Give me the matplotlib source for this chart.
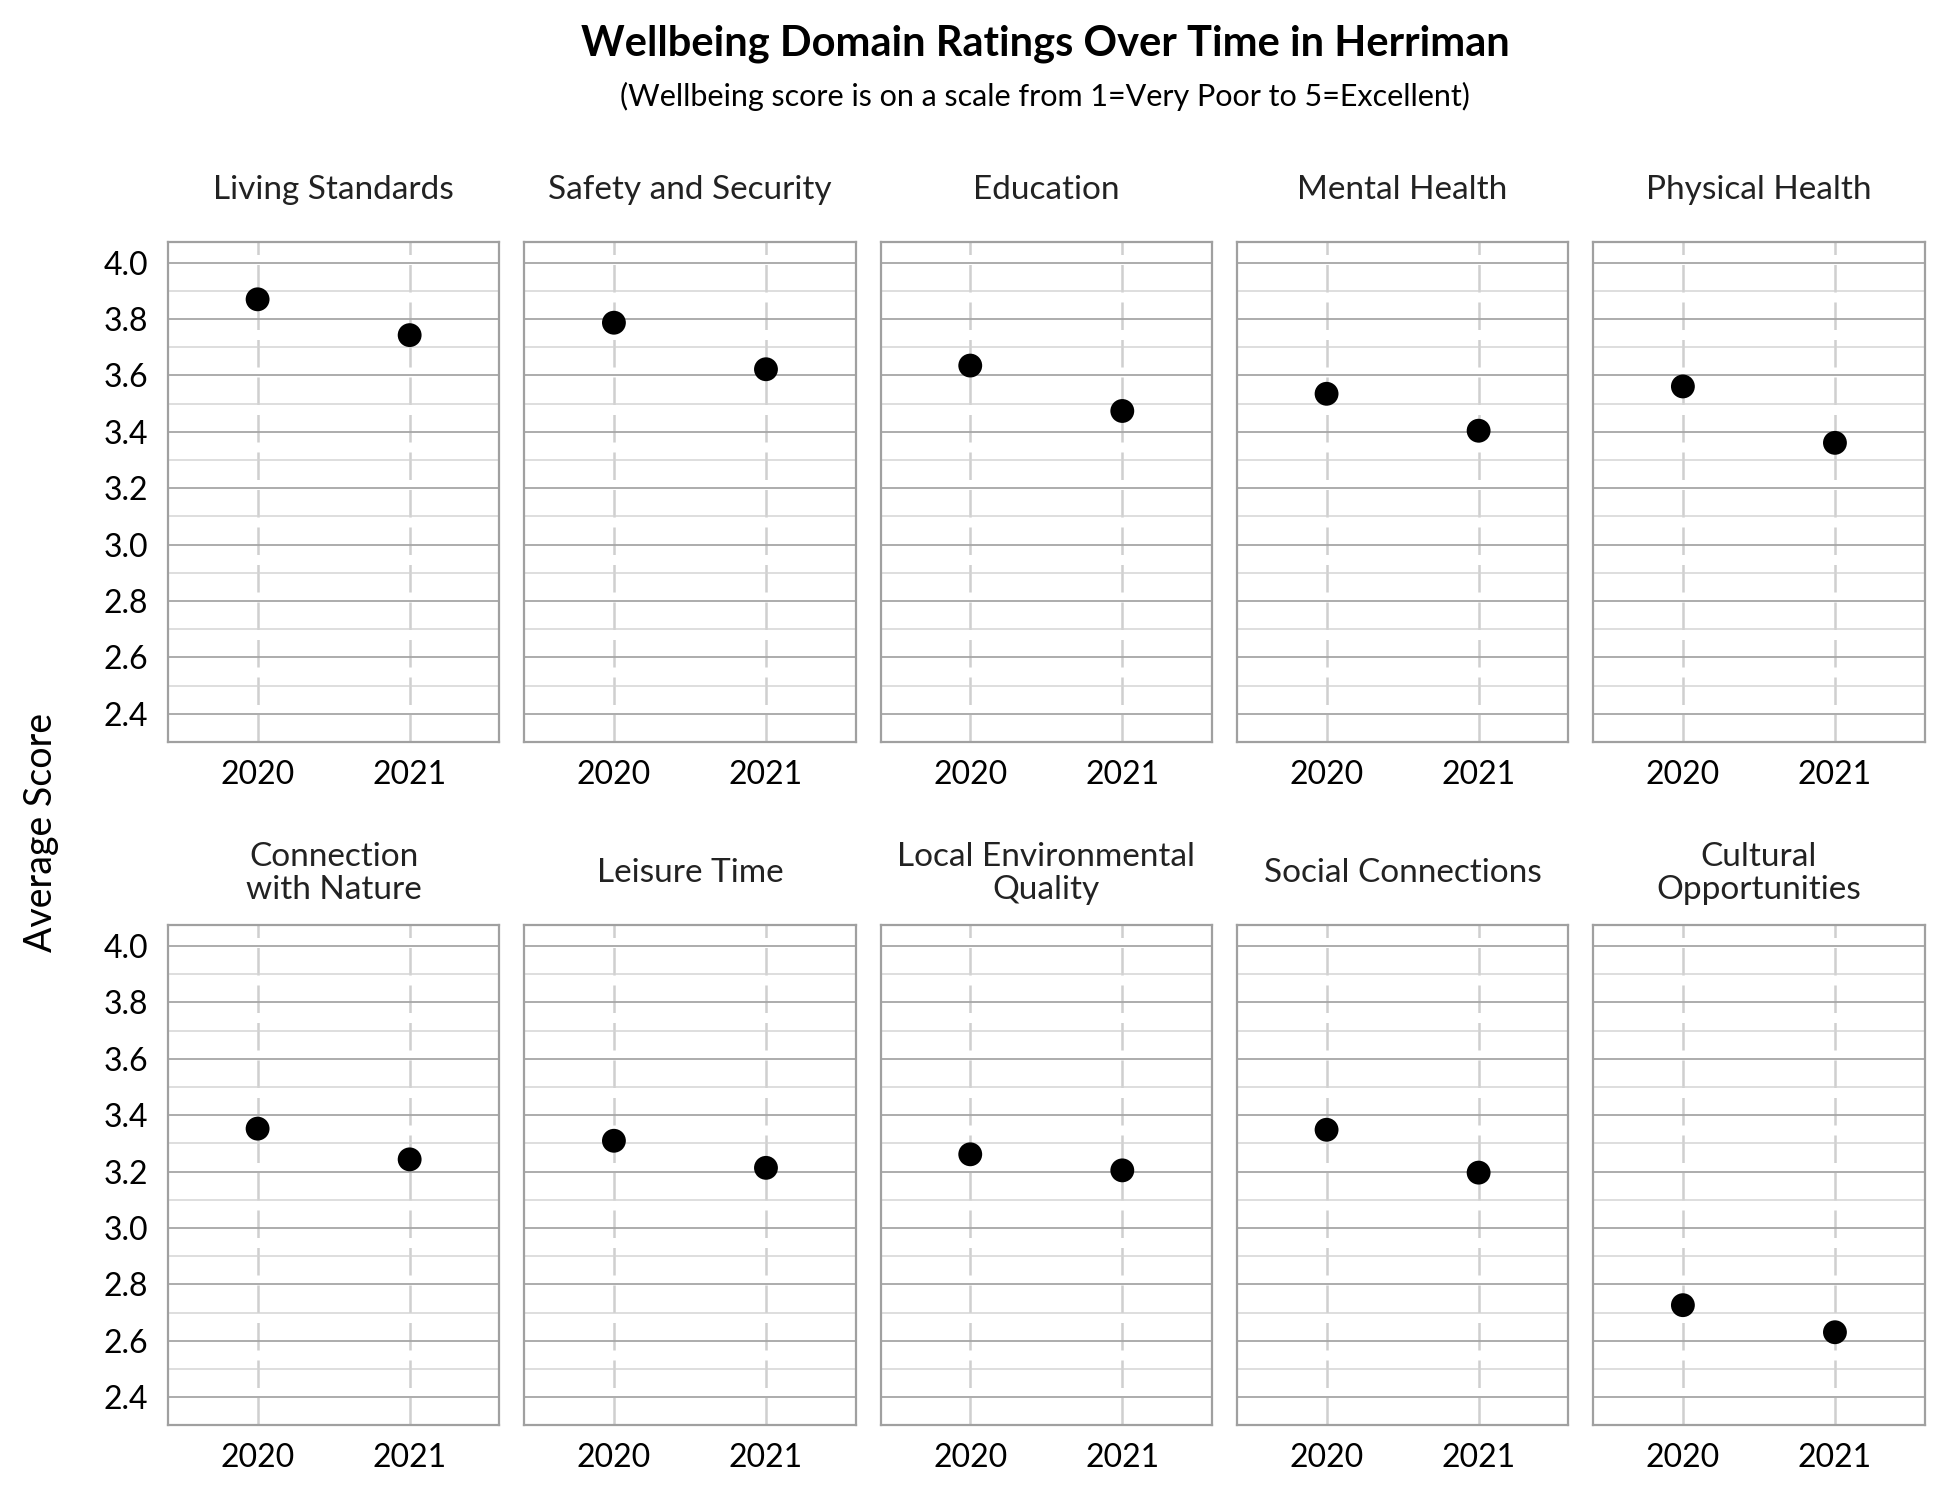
import matplotlib
matplotlib.use("Agg")
import matplotlib.pyplot as plt
import numpy as np

plt.rcParams['font.family'] = ['Lato', 'DejaVu Sans']

domains = ["Living Standards", "Safety and Security", "Education", "Mental Health",
           "Physical Health", "Connection\nwith Nature", "Leisure Time",
           "Local Environmental\nQuality", "Social Connections", "Cultural\nOpportunities"]
years = ["2020", "2021"]
score_2020 = [3.870, 3.787, 3.635, 3.535, 3.561, 3.352, 3.309, 3.261, 3.348, 2.726]
score_2021 = [3.743, 3.622, 3.474, 3.404, 3.361, 3.243, 3.213, 3.204, 3.196, 2.630]
y_ticks = [2.4, 2.6, 2.8, 3.0, 3.2, 3.4, 3.6, 3.8, 4.0]

fig, axes = plt.subplots(2, 5, figsize=(19.5, 15), dpi=100, sharey=True)
fig.subplots_adjust(left=0.0861, right=0.987, top=0.839, bottom=0.0498,
                    wspace=0.075, hspace=0.365)

xpos = np.arange(len(years))
for i, ax in enumerate(axes.flat):
    vals = [score_2020[i], score_2021[i]]
    ax.set_ylim(2.325, 4.075)
    ax.set_xlim(-0.59, 1.59)
    ax.set_yticks(y_ticks)
    ax.set_yticks(np.arange(2.3, 4.05, 0.1), minor=True)
    ax.grid(axis='y', which='major', color='#a6a6a6', lw=1.3, zorder=0)
    ax.grid(axis='y', which='minor', color='#d4d4d4', lw=1.1, zorder=0)
    for x in xpos:
        ax.axvline(x, color='#cfcfcf', lw=1.8, ls=(0, (11, 4)), zorder=1)
    ax.scatter(xpos, vals, s=295, color='black', zorder=3, edgecolors='none')
    ax.set_xticks(xpos)
    ax.set_xticklabels(years, fontsize=23)
    ax.tick_params(axis='both', which='both', length=0)
    ax.tick_params(axis='x', pad=13)
    ax.tick_params(axis='y', labelsize=23, pad=14)
    ax.yaxis.set_major_formatter(matplotlib.ticker.FormatStrFormatter('%.1f'))
    for sp in ax.spines.values():
        sp.set_color('#a0a0a0')
        sp.set_linewidth(1.6)
    ax.set_title(domains[i], fontsize=24, pad=37, va='center', color='#222222',
                 linespacing=1.15)

fig.text(0.536, 0.971, "Wellbeing Domain Ratings Over Time in Herriman",
         ha='center', va='center', fontsize=30, fontweight='bold')
fig.text(0.536, 0.936, "(Wellbeing score is on a scale from 1=Very Poor to 5=Excellent)",
         ha='center', va='center', fontsize=22)
fig.text(0.021, 0.445, "Average Score", rotation=90, ha='center', va='center', fontsize=27)

fig.savefig("out.png", dpi=100)
